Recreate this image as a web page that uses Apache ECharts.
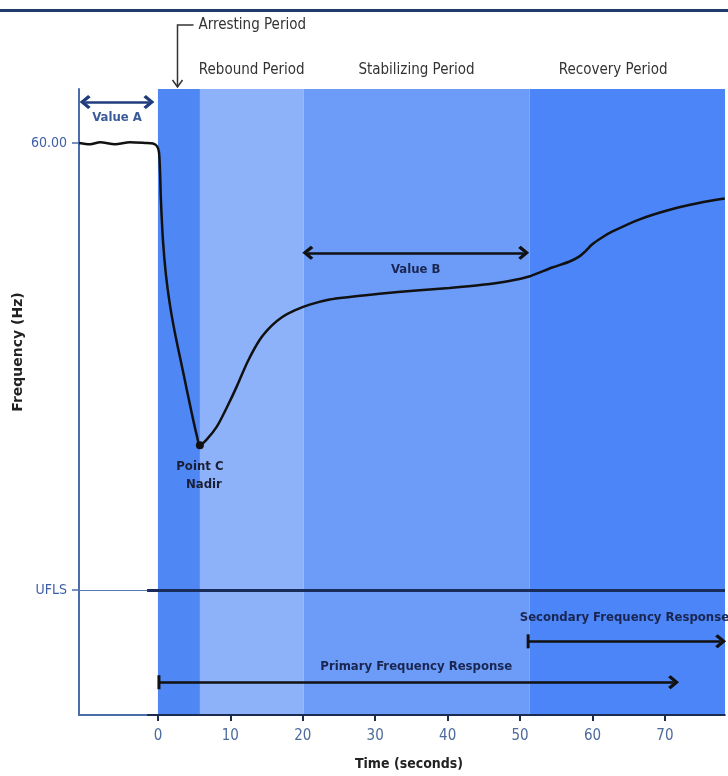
<!DOCTYPE html>
<html>
<head>
<meta charset="utf-8">
<script src="https://cdn.jsdelivr.net/npm/echarts@6/dist/echarts.min.js"></script>
<style>html,body{margin:0;padding:0;background:#fff;}#chart{width:728px;height:776px;}</style>
</head>
<body>
<div id="chart"></div>
<script>
// ---- data ----
const times = [-10.89, -9.37, -7.99, -5.93, -3.86, -1.79, -0.69, -0.14, 0.14, 0.28, 0.41, 0.69, 1.10, 1.65, 2.34, 3.17, 4.00, 4.82, 5.37, 5.79,
  6.75, 8.13, 9.51, 10.89, 12.40, 14.06, 15.71, 17.22, 18.88, 20.95, 23.70, 26.46, 30.59, 35.69, 40.24, 44.78, 48.51, 51.26,
  54.43, 56.77, 58.15, 58.98, 59.94, 61.32, 62.70, 66.42, 70.55, 74.69, 78.27];
const freqs = [60.000, 59.998, 60.001, 59.998, 60.001, 60.000, 59.999, 59.995, 59.986, 59.958, 59.911, 59.848, 59.794, 59.747, 59.703, 59.658, 59.613, 59.569, 59.542, 59.527,
  59.536, 59.556, 59.586, 59.619, 59.658, 59.692, 59.714, 59.728, 59.738, 59.747, 59.755, 59.759, 59.764, 59.769, 59.773, 59.778, 59.784, 59.791,
  59.805, 59.814, 59.822, 59.830, 59.841, 59.852, 59.861, 59.880, 59.895, 59.906, 59.913];
const periodNames = ['', 'Rebound Period', 'Stabilizing Period', 'Recovery Period'];
const periodBounds = [0, 5.8, 20.1, 51.3, 78.3];
const periodColors = ['#4f87f5', '#8db2fa', '#6c9cf8', '#4b85f7'];
const xTickValues = [0, 10, 20, 30, 40, 50, 60, 70];
const yTickValues = [60.0, 59.3];
const yTickLabels = ['60.00', 'UFLS'];
const ufls = 59.3;
const nadir = [5.79, 59.527];
const valueA = { from: -10.05, to: -1.25, y: 60.064 };
const valueB = { from: 20.7, to: 50.5, y: 59.828 };
const secondary = { from: 51.12, to: 77.7, y: 59.220 };
const primary = { from: 0.14, to: 71.2, y: 59.156 };
const arrestingT = 2.62;
const xMin = -10.9, xMax = 78.3, yMin = 59.1047, yMax = 60.0844;

const FONT = "'Liberation Sans Narrow','DejaVu Sans Condensed',sans-serif";
const chev = 'path://M10,0 L20,10 L17,13 L10,6 L3,13 L0,10 Z';
const bar = 'path://M0,0 L20,0 L20,3 L0,3 Z';

function arrowLine(spec, color, startSym, endSym, labelText, labelPos, dist, labelColor, fs) {
  return [
    { coord: [spec.from, spec.y], symbol: startSym.s, symbolSize: startSym.size,
      lineStyle: { color: color, width: 2.5, type: 'solid' },
      label: { show: !!labelText, formatter: labelText, position: labelPos, distance: dist,
        color: labelColor, fontFamily: FONT, fontWeight: 'bold', fontSize: fs } },
    { coord: [spec.to, spec.y], symbol: endSym.s, symbolSize: endSym.size }
  ];
}

const chev12 = { s: chev, size: [14, 11] };
const bar14 = { s: bar, size: [14, 3] };

const chart = echarts.init(document.getElementById('chart'), null, { renderer: 'canvas' });
const option = {
  animation: false,
  backgroundColor: '#ffffff',
  grid: { left: 79, right: 3, top: 89, bottom: 60, containLabel: false },
  xAxis: {
    type: 'value', min: xMin, max: xMax,
    splitLine: { show: false },
    axisLine: { show: true, onZero: false, lineStyle: { color: '#4a6eaa', width: 2 } },
    axisTick: { show: true, customValues: xTickValues, length: 6, inside: false, lineStyle: { color: '#1c2c50', width: 2 } },
    axisLabel: { customValues: xTickValues, margin: 14, color: '#4d6a9c', fontFamily: FONT, fontSize: 15, formatter: v => String(v) },
    name: 'Time (seconds)', nameLocation: 'middle', nameGap: 42,
    nameTextStyle: { color: '#222', fontFamily: FONT, fontSize: 14, fontWeight: 'bold', padding: [0, 0, 0, 14] }
  },
  yAxis: {
    type: 'value', min: yMin, max: yMax,
    splitLine: { show: false },
    axisLine: { show: true, onZero: false, lineStyle: { color: '#4a6eaa', width: 2 } },
    axisTick: { show: true, customValues: yTickValues, length: 7, lineStyle: { color: '#4a6eaa', width: 1.5 } },
    axisLabel: { customValues: yTickValues, margin: 12, color: '#3d5fa5', fontFamily: FONT, fontSize: 14,
      formatter: v => { const i = yTickValues.findIndex(t => Math.abs(t - v) < 1e-6); return i >= 0 ? yTickLabels[i] : ''; } }
  },
  series: [{
    type: 'line',
    data: times.map((t, i) => [t, freqs[i]]),
    showSymbol: false,
    smooth: 0.3,
    clip: false,
    lineStyle: { color: '#111111', width: 2.5 },
    z: 5,
    markArea: {
      silent: true,
      data: periodNames.map((n, i) => [
        { xAxis: periodBounds[i], itemStyle: { color: periodColors[i] },
          label: { show: !!n, formatter: n, position: 'top', distance: 11, offset: i === 3 ? [-14, 0] : [0, 0],
            color: '#333', fontFamily: FONT, fontSize: 15 } },
        { xAxis: periodBounds[i + 1] }
      ])
    },
    markLine: {
      silent: true,
      animation: false,
      label: { show: false },
      emphasis: { disabled: true },
      data: [
        arrowLine(valueA, '#1f3c7c', chev12, chev12, 'Value A', 'insideMiddleBottom', 9, '#3a5a9a', 13),
        arrowLine(valueB, '#111111', chev12, chev12, 'Value B', 'insideMiddleBottom', 10, '#1a2550', 13),
        arrowLine(secondary, '#111111', bar14, chev12, 'Secondary Frequency Response', 'insideMiddleTop', 17, '#1a2550', 13),
        arrowLine(primary, '#111111', bar14, chev12, 'Primary Frequency Response', 'insideMiddleTop', 9, '#1a2550', 13),
        [
          { coord: [-1.5, ufls], symbol: 'none', lineStyle: { color: '#1a2d5a', width: 3, type: 'solid' } },
          { coord: [xMax, ufls], symbol: 'none' }
        ],
        [
          { coord: [xMin, ufls], symbol: 'none', lineStyle: { color: '#5577b5', width: 1, type: 'solid' } },
          { coord: [-1.5, ufls], symbol: 'none' }
        ],
        [
          { coord: [-1.5, yMin], symbol: 'none', lineStyle: { color: '#1c2c50', width: 2, type: 'solid' } },
          { coord: [xMax, yMin], symbol: 'none' }
        ]
      ]
    },
    markPoint: {
      silent: true,
      data: [{
        coord: nadir, symbol: 'circle', symbolSize: 8, itemStyle: { color: '#111' },
        label: { show: true, position: 'bottom', distance: 8, formatter: 'Point C\n  Nadir', lineHeight: 18,
          color: '#1a1f35', fontFamily: FONT, fontWeight: 'bold', fontSize: 13 }
      }]
    }
  }]
};
chart.setOption(option);

const pArr = chart.convertToPixel({ gridIndex: 0 }, [arrestingT, yMax]);
const ax = Math.round(pArr[0]) + 0.5, gridTop = pArr[1];
chart.setOption({
  graphic: [
    { type: 'rect', shape: { x: 0, y: 9, width: 728, height: 3 }, style: { fill: '#1f3b6b' }, silent: true },
    { type: 'polyline', shape: { points: [[ax, gridTop - 2], [ax, 25], [ax + 16, 25]] }, style: { stroke: '#333', lineWidth: 1.5, fill: null }, silent: true },
    { type: 'polyline', shape: { points: [[ax - 5, gridTop - 9], [ax, gridTop - 2], [ax + 5, gridTop - 9]] }, style: { stroke: '#333', lineWidth: 1.5, fill: null }, silent: true },
    { type: 'text', x: ax + 21, y: 25, style: { text: 'Arresting Period', fill: '#333', font: '15px ' + FONT, verticalAlign: 'middle', align: 'left' }, silent: true },
    { type: 'text', x: 18, y: 352, rotation: Math.PI / 2, style: { text: 'Frequency (Hz)', fill: '#222', font: 'bold 14px "DejaVu Sans"', verticalAlign: 'middle', align: 'center' }, silent: true }
  ]
});
</script>
</body>
</html>
